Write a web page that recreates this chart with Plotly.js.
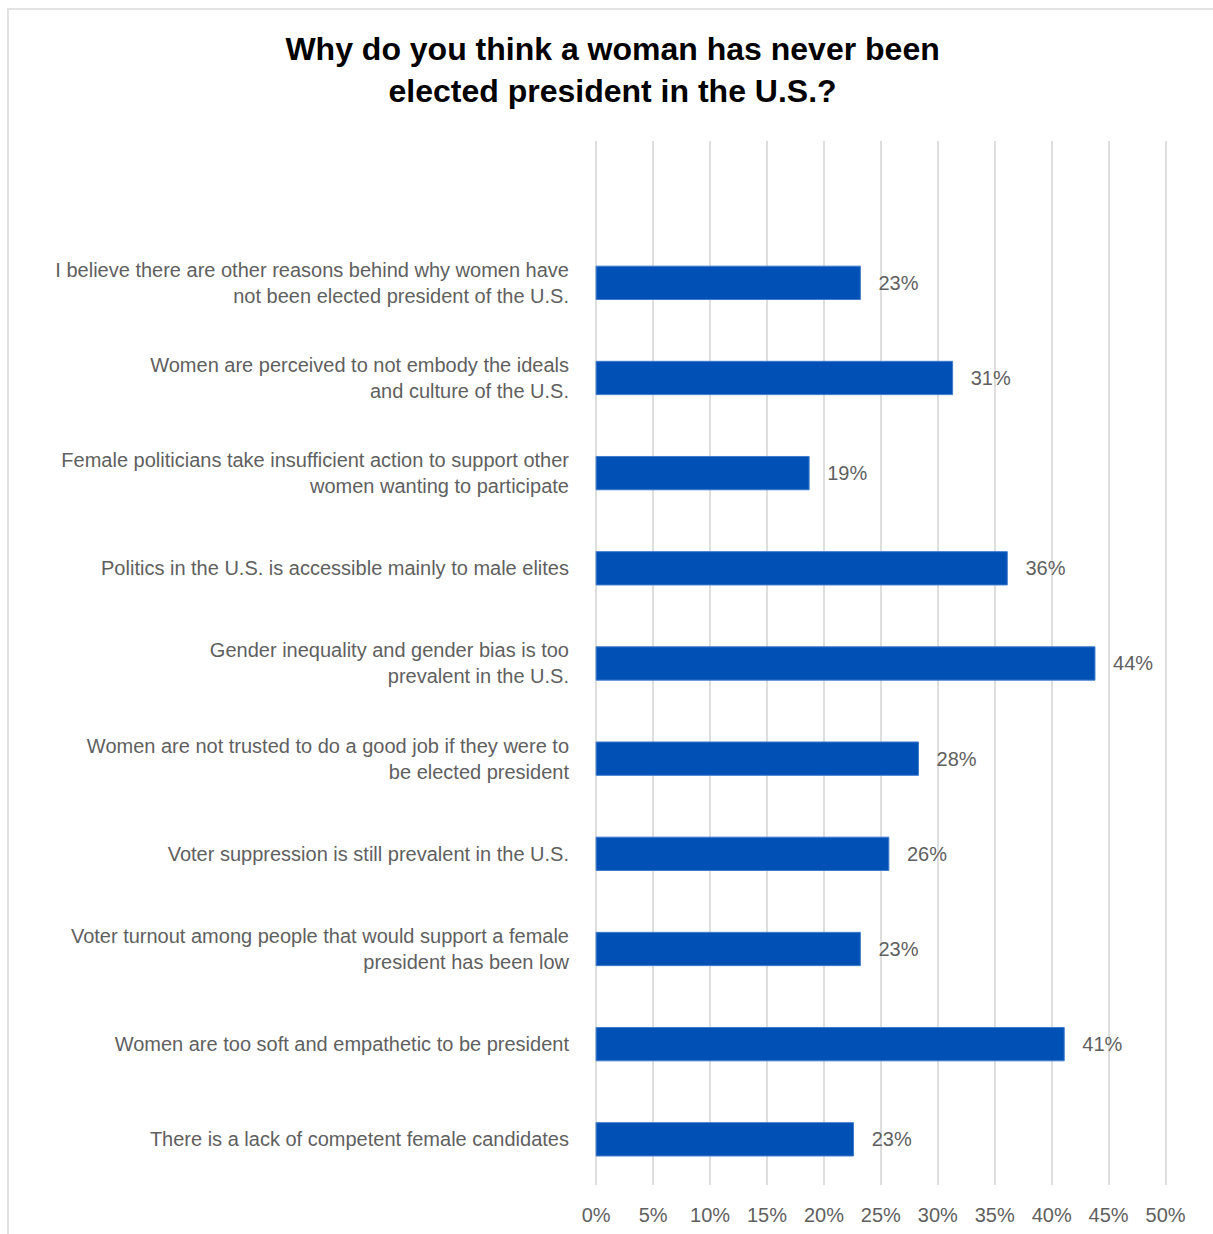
<!DOCTYPE html>
<html>
<head>
<meta charset="utf-8">
<script src="https://cdn.plot.ly/plotly-3.0.1.min.js"></script>
<style>
  html, body { margin: 0; padding: 0; background: #fff; overflow: hidden; }
  #chart { position: absolute; left: 0; top: 0; width: 1213px; height: 1234px; }
  #frame { position: absolute; left: 7px; top: 8px; width: 1230px; height: 1260px;
           border-top: 2px solid #e3e3e3; border-left: 2px solid #e3e3e3; pointer-events: none; }
</style>
</head>
<body>
<div id="chart"></div>
<div id="frame"></div>
<script>
const categories = [
  "I believe there are other reasons behind why women have<br>not been elected president of the U.S.",
  "Women are perceived to not embody the ideals<br>and culture of the U.S.",
  "Female politicians take insufficient action to support other<br>women wanting to participate",
  "Politics in the U.S. is accessible mainly to male elites",
  "Gender inequality and gender bias is too<br>prevalent in the U.S.",
  "Women are not trusted to do a good job if they were to<br>be elected president",
  "Voter suppression is still prevalent in the U.S.",
  "Voter turnout among people that would support a female<br>president has been low",
  "Women are too soft and empathetic to be president",
  "There is a lack of competent female candidates"
];
const values = [23.2, 31.3, 18.7, 36.1, 43.8, 28.3, 25.7, 23.2, 41.1, 22.6];
const tickVals = [0, 5, 10, 15, 20, 25, 30, 35, 40, 45, 50];
const tickText = ["0%", "5%", "10%", "15%", "20%", "25%", "30%", "35%", "40%", "45%", "50%"];
const labels = values.map(v => "\u00a0\u00a0\u2009" + Math.round(v) + "%");

const FONT = "Liberation Sans, Arial, Helvetica, sans-serif";
const GREY = "#5f5f5f";

const trace = {
  type: "bar",
  orientation: "h",
  x: values,
  y: categories,
  text: labels,
  textposition: "outside",
  cliponaxis: false,
  textfont: { family: FONT, size: 20, color: GREY },
  marker: { color: "#0050b5", line: { color: "#3f7bcc", width: 1 } },
  width: 0.35,
  hoverinfo: "skip"
};

const layout = {
  width: 1213,
  height: 1234,
  paper_bgcolor: "#ffffff",
  plot_bgcolor: "#ffffff",
  margin: { l: 595, r: 44, t: 141, b: 49, pad: 0 },
  showlegend: false,
  title: {
    text: "<b>Why do you think a woman has never been<br>elected president in the U.S.?</b>",
    font: { family: FONT, size: 32, color: "#000000" },
    x: 0.505, xanchor: "center",
    y: 0.951, yanchor: "middle"
  },
  xaxis: {
    range: [-0.1, 50.3],
    tickvals: tickVals,
    ticktext: tickText,
    showgrid: true,
    gridcolor: "#dedede",
    gridwidth: 2,
    zeroline: true,
    zerolinecolor: "#dedede",
    zerolinewidth: 2,
    showline: false,
    ticks: "outside",
    ticklen: 12,
    tickcolor: "rgba(0,0,0,0)",
    tickfont: { family: FONT, size: 20, color: GREY },
    fixedrange: true
  },
  yaxis: {
    type: "category",
    range: [9.48, -1.49],
    showgrid: false,
    zeroline: false,
    showline: false,
    ticks: "outside",
    ticklen: 21,
    tickcolor: "rgba(0,0,0,0)",
    tickfont: { family: FONT, size: 20, color: GREY },
    fixedrange: true
  }
};

Plotly.newPlot("chart", [trace], layout, { displayModeBar: false, staticPlot: true });
</script>
</body>
</html>
